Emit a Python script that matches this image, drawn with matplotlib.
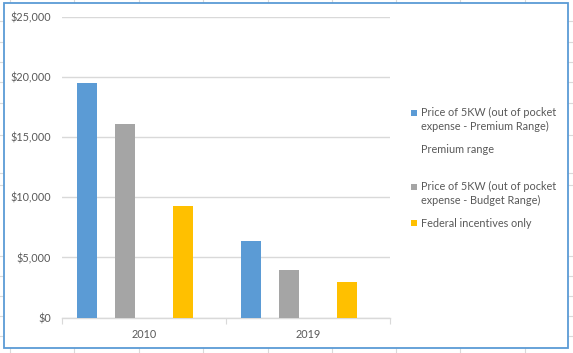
import matplotlib
matplotlib.use("Agg")
import matplotlib.pyplot as plt
from matplotlib.patches import Rectangle
from matplotlib.lines import Line2D
import numpy as np

# ---- data ----
categories = ["2010", "2019"]
premium_price = [19500, 6400]
premium_range = [0, 0]          # empty series (legend only)
budget_price = [16100, 3950]
federal_only = [9300, 2950]
series_labels = [
    "Price of 5KW (out of pocket\nexpense - Premium Range)",
    "Premium range",
    "Price of 5KW (out of pocket\nexpense - Budget Range)",
    "Federal incentives only",
]
series_colors = ["#5b9bd5", "none", "#a5a5a5", "#ffc000"]
yticks = [0, 5000, 10000, 15000, 20000, 25000]
ytick_labels = ["$0", "$5,000", "$10,000", "$15,000", "$20,000", "$25,000"]

# ---- layout ----
W, H = 573, 353
DPI = 100
FONT = "Lato"
FS = 7.8
TXT = "#595959"
GRID = "#d9d9d9"

fig = plt.figure(figsize=(W / DPI, H / DPI), dpi=DPI)
fig.patch.set_facecolor("white")

def fx(px):
    return px / W

def fy(py):
    return 1 - py / H

# spreadsheet grid behind the chart
for xc in [10, 74, 139, 203, 268, 332, 396, 460, 525]:
    fig.add_artist(Line2D([fx(xc), fx(xc)], [0, 1], color=GRID, lw=0.8, zorder=0))
for yr in [21, 42, 62, 82, 103, 135, 173, 185, 256, 276, 296, 316, 336]:
    fig.add_artist(Line2D([0, 1], [fy(yr), fy(yr)], color=GRID, lw=0.8, zorder=0))

# chart area
fig.add_artist(Rectangle((fx(4), fy(348)), fx(568) - fx(4), fy(3) - fy(348),
                         facecolor="white", edgecolor="#5b9bd5", lw=1.3, zorder=1))

ax = fig.add_axes([fx(62), fy(317.5), fx(390) - fx(62), fy(17) - fy(317.5)], zorder=2)
ax.set_facecolor("none")

x = np.arange(len(categories))
offsets = [-0.349, 0.0, -0.115, 0.237]
width = 0.119
all_series = [premium_price, premium_range, budget_price, federal_only]
for vals, off, col, lab in zip(all_series, offsets, series_colors, series_labels):
    if col == "none":
        continue
    ax.bar(x + off, vals, width=width, color=col, label=lab, zorder=3)

ax.set_xlim(-0.5, 1.5)
ax.set_ylim(0, 25000)
ax.set_yticks(yticks)
ax.set_yticklabels(ytick_labels, fontfamily=FONT, fontsize=FS, color=TXT)
ax.yaxis.grid(True, color=GRID, lw=1.0, zorder=0)
ax.tick_params(axis="y", length=0, pad=8)

ax.set_xticks([-0.5, 0.5, 1.5])
ax.set_xticklabels([])
ax.tick_params(axis="x", length=4, color=GRID, direction="out")
ax.set_xticks(x, minor=True)
ax.set_xticklabels(categories, minor=True, fontfamily=FONT, fontsize=FS, color=TXT)
ax.tick_params(axis="x", which="minor", length=0, pad=8)

for s in ["top", "right", "left"]:
    ax.spines[s].set_visible(False)
ax.spines["bottom"].set_color(GRID)
ax.spines["bottom"].set_linewidth(1.0)
ax.set_axisbelow(True)

# legend (manual, Excel style)
leg_rows = [
    (series_colors[0], ["Price of 5KW (out of pocket", "expense - Premium Range)"], 112.7),
    (series_colors[1], ["Premium range"], 149.3),
    (series_colors[2], ["Price of 5KW (out of pocket", "expense - Budget Range)"], 186.7),
    (series_colors[3], ["Federal incentives only"], 223.3),
]
for col, lines, y0 in leg_rows:
    if col != "none":
        fig.add_artist(Rectangle((fx(411), fy(y0 + 3)), fx(6), 6 / H,
                                 facecolor=col, edgecolor="none", zorder=3))
    for i, ln in enumerate(lines):
        fig.text(fx(421), fy(y0 + 14 * i), ln, fontfamily=FONT, fontsize=FS,
                 color=TXT, va="center", ha="left", zorder=3)

fig.savefig("out.png", dpi=DPI)
